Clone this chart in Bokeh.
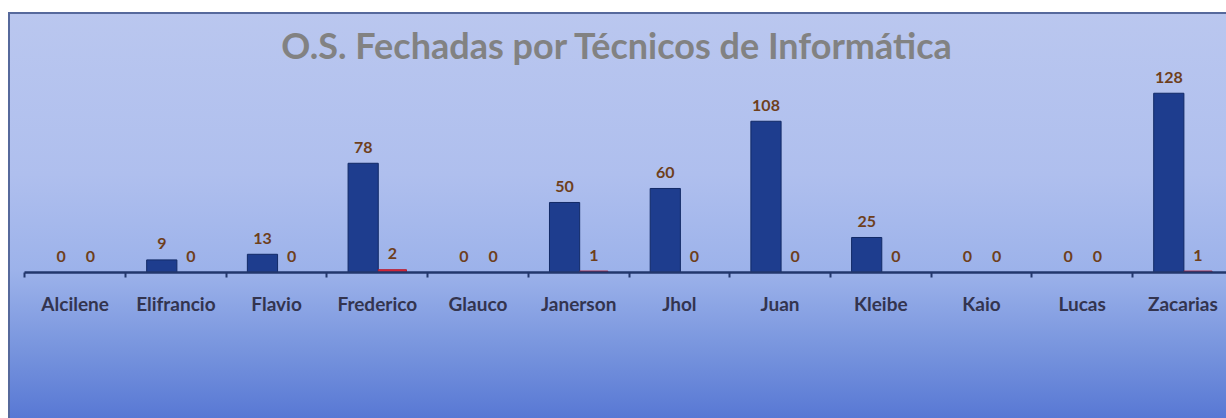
from bokeh.plotting import figure
from bokeh.models import ColumnDataSource, Range1d, FixedTicker
from bokeh.transform import dodge
from bokeh.core.properties import value
from bokeh.embed import file_html
from bokeh.resources import INLINE

# ---- data ----
tecnicos = ["Alcilene", "Elifrancio", "Flavio", "Frederico", "Glauco", "Janerson",
            "Jhol", "Juan", "Kleibe", "Kaio", "Lucas", "Zacarias"]
fechadas = [0, 9, 13, 78, 0, 50, 60, 108, 25, 0, 0, 128]
segunda = [0, 0, 0, 2, 0, 1, 0, 0, 0, 0, 0, 1]
titulo = "O.S. Fechadas por Técnicos de Informática"

idx = list(range(len(tecnicos)))
src = ColumnDataSource(dict(
    x=idx, a=fechadas, b=segunda,
    a_txt=[str(v) for v in fechadas], b_txt=[str(v) for v in segunda],
))

FONT = "Lato"

p = figure(width=1218, height=406, output_backend="svg", toolbar_location=None,
           x_range=Range1d(-0.662, 11.433), y_range=Range1d(0, 147.1),
           title=titulo, min_border_top=54, min_border_bottom=146,
           min_border_left=0, min_border_right=0)
p.styles = {
    "margin-top": "12px",
    "margin-left": "8px",
    "background": "linear-gradient(to bottom, #bac7ef 0%, #afbfee 40%, #9cb2ea 64%, #7693dd 84%, #5878d4 100%)",
    "box-shadow": "inset 2px 2px 0 #56699c",
}
p.background_fill_alpha = 0
p.border_fill_alpha = 0
p.outline_line_color = None
p.grid.visible = False
p.yaxis.visible = False

p.title.align = "center"
p.title.offset = -18
p.title.text_font = FONT
p.title.text_font_size = "36px"
p.title.text_font_style = "bold"
p.title.text_color = "#828282"
p.title.standoff = 0

# bars
p.vbar(x=dodge("x", -0.14, range=p.x_range), top="a", width=0.3, source=src,
       fill_color="#1e3d8e", line_color="#122a66", line_width=1)
p.vbar(x=dodge("x", 0.15, range=p.x_range), top="b", width=0.28, source=src,
       fill_color="#d4283a", line_color="#b81e30", line_width=1)

# value labels
for col, off in (("a", -0.14), ("b", 0.15)):
    p.text(x=dodge("x", off, range=p.x_range), y=col, text=col + "_txt", source=src,
           text_align="center", text_baseline="alphabetic", y_offset=-16,
           text_font=value(FONT), text_font_size="16px", text_font_style="bold",
           text_color="#6e3f1c")

# x axis
ax = p.xaxis[0]
ax.ticker = FixedTicker(ticks=idx, minor_ticks=[i - 0.5 for i in range(len(tecnicos) + 1)])
ax.major_label_overrides = {i: t for i, t in zip(idx, tecnicos)}
ax.bounds = (-0.5, len(tecnicos) - 0.5)
ax.axis_line_color = "#22376c"
ax.axis_line_width = 2.5
ax.major_tick_line_color = None
ax.minor_tick_line_color = "#22376c"
ax.minor_tick_line_width = 2
ax.minor_tick_in = 0
ax.minor_tick_out = 5
ax.major_label_standoff = 13
ax.major_label_text_font = FONT
ax.major_label_text_font_size = "19px"
ax.major_label_text_font_style = "bold"
ax.major_label_text_color = "#33344f"

open("out.html", "w").write(file_html(p, INLINE))
